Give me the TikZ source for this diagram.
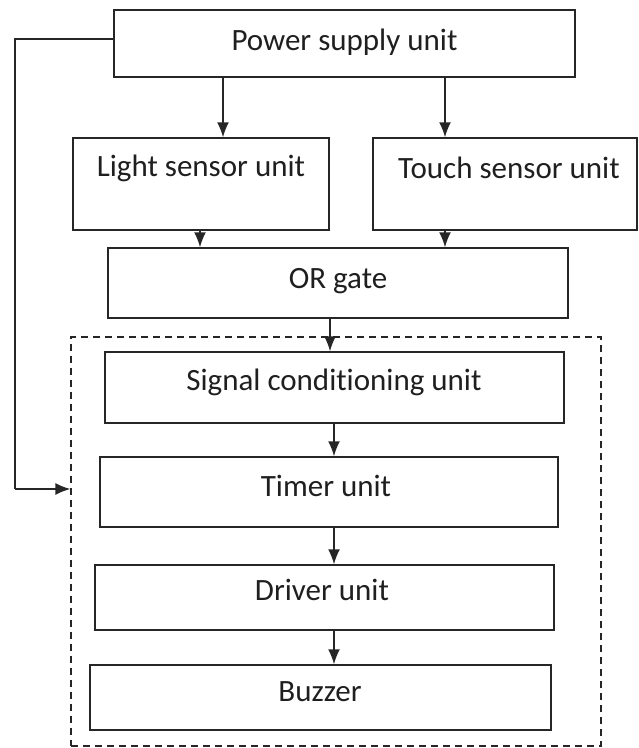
\documentclass[tikz,border=0pt]{standalone}
\usepackage{fontspec}
\setmainfont{Carlito}[Ligatures=NoCommon]
\usetikzlibrary{arrows.meta,calc}
\begin{document}
\begin{tikzpicture}[x=1pt,y=-1pt,
  box/.style={draw=black!85, line width=1.5pt, rectangle, inner sep=0pt},
  lbl/.style={inner sep=0pt, font=\fontsize{31}{35}\selectfont, text=black!88},
  flow/.style={draw=black!85, line width=1.5pt, -{Latex[length=15pt,width=12pt]}},
  plain/.style={draw=black!85, line width=1.5pt},
  dashbox/.style={draw=black!85, line width=1.3pt, dash pattern=on 7pt off 5pt}]
\useasboundingbox (0,0) rectangle (639,748);
% boxes
\node[box, minimum width=461pt, minimum height=67pt] (ps) at (344.5,43.5) {};
\node[box, minimum width=256pt, minimum height=92pt] (light) at (201,184) {};
\node[box, minimum width=264pt, minimum height=92pt] (touch) at (505,184) {};
\node[box, minimum width=460pt, minimum height=70pt] (or) at (338,283) {};
\node[dashbox, minimum width=530pt, minimum height=409pt, inner sep=0pt] (grp) at (336,541.5) {};
\node[box, minimum width=459pt, minimum height=71pt] (sig) at (334.5,387.5) {};
\node[box, minimum width=458pt, minimum height=70pt] (tim) at (329,492) {};
\node[box, minimum width=459pt, minimum height=65pt] (drv) at (324.5,597.5) {};
\node[box, minimum width=461pt, minimum height=65pt] (buz) at (320.5,697.5) {};
% labels
\node[lbl] (pst) at (344.5,42) {Power supply unit};
\node[lbl] (lt) at (201,168) {Light sensor unit};
\node[lbl] (tt) at (509,168) {Touch sensor unit};
\node[lbl] (ort) at (338,281) {OR gate};
\node[lbl] (sigt) at (334,382) {Signal conditioning unit};
\node[lbl] (timt) at (326,486) {Timer unit};
\node[lbl] (drvt) at (322,590) {Driver unit};
\node[lbl] (buzt) at (320,692) {Buzzer};
% helper coordinates
\coordinate (fbA) at (15,39);
\coordinate (fbB) at (15,489);
\coordinate (fbC) at (71,489);
% connectors
\draw[flow] (ps.south -| 223,0) -- (light.north -| 223,0);
\draw[flow] (ps.south -| 445,0) -- (touch.north -| 445,0);
\draw[flow] (light.south -| 200,0) -- (or.north -| 200,0);
\draw[flow] (touch.south -| 445,0) -- (or.north -| 445,0);
\draw[flow] (or.south -| 330,0) -- (sig.north -| 330,0);
\draw[flow] (sig.south -| 334,0) -- (tim.north -| 334,0);
\draw[flow] (tim.south -| 334,0) -- (drv.north -| 334,0);
\draw[flow] (drv.south -| 334,0) -- (buz.north -| 334,0);
\draw[plain] (ps.west |- fbA) -- (fbA) -- (fbB);
\draw[flow] (fbB) -- (grp.west |- fbC);
\end{tikzpicture}
\end{document}
